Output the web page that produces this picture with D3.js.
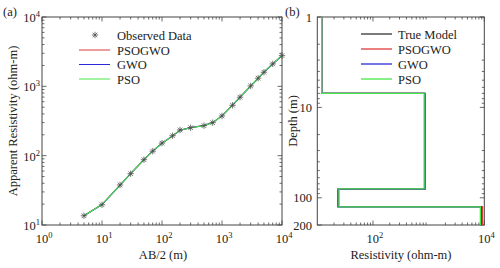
<!DOCTYPE html>
<html>
<head>
<meta charset="utf-8">
<script src="https://cdn.jsdelivr.net/npm/d3@7"></script>
<style>
body { margin: 0; background: #fff; }
svg { display: block; }
</style>
</head>
<body>
<svg id="chart" width="500" height="268" font-family="'Liberation Serif', 'DejaVu Serif', serif"></svg>
<script>
// panel (a): sounding curve
var abHalf = [5, 10, 20, 30, 50, 70, 100, 150, 200, 300, 500, 700, 1000, 1500, 2000, 3000, 4000, 5000, 7000, 10000];
var observed = [13.6, 19.6, 37.8, 55, 87.5, 116, 152, 194, 235, 253, 271, 299, 374, 533, 697, 1014, 1310, 1597, 2104, 2775];
var psogwoRhoA = [13.6, 19.7, 37.6, 55.2, 87.8, 116, 151, 193, 233, 254, 272, 300, 375, 535, 700, 1010, 1305, 1600, 2100, 2780];
var gwoRhoA = [13.6, 19.7, 37.6, 55.2, 87.7, 116, 151, 193, 233, 254, 272, 300, 375, 534, 699, 1010, 1305, 1598, 2100, 2778];
var psoRhoA = [13.6, 19.7, 37.7, 55.1, 87.6, 116, 151, 193, 233, 253, 271, 299, 374, 534, 698, 1012, 1308, 1598, 2102, 2776];
var aXTicks = [1, 10, 100, 1000, 10000];
var aYTicks = [10, 100, 1000, 10000];

// panel (b): layered models (resistivity per layer, depth of interfaces)
var trueRho = [12, 850, 24, 8700];
var trueDepth = [7, 80, 125];
var psogwoRho = [12, 860, 24, 9300];
var psogwoDepth = [7, 80.5, 125];
var gwoRho = [12, 850, 23.5, 8800];
var gwoDepth = [7, 80, 126];
var psoRho = [12, 830, 24.5, 8500];
var psoDepth = [7, 79.5, 126];
var bXTicks = [100, 10000];
var bYTicks = [1, 10, 100, 200];
var bYLabels = ["1", "10", "100", "200"];

var RED = "#e03a3a", BLUE = "#2a2ad8", GREEN = "#44e844", BLACK = "#333";
var AXIS = "#444";
var FONT = "'Liberation Serif', 'Times New Roman', 'DejaVu Serif', serif";

var svg = d3.select("#chart");

var ax = d3.scaleLog().domain([1, 1e4]).range([42, 282]);
var ay = d3.scaleLog().domain([10, 1e4]).range([225, 17]);
var bx = d3.scaleLog().domain([10, 1e4]).range([317.3, 484.3]);
var by = d3.scaleLog().domain([1, 200]).range([17, 225]);

function label(x, y, str, anchor) {
	return svg.append("text").attr("x", x).attr("y", y)
		.attr("text-anchor", anchor || "start")
		.attr("font-family", FONT).attr("font-size", 12.5).attr("fill", "#222")
		.text(str);
}

function minors(domain) {
	var out = [];
	var lo = Math.floor(Math.log10(domain[0])), hi = Math.ceil(Math.log10(domain[1]));
	for (var k = lo; k < hi; k++) {
		for (var m = 2; m <= 9; m++) {
			var v = m * Math.pow(10, k);
			if (v > domain[0] && v < domain[1]) out.push(v);
		}
	}
	return out;
}

function drawFrame(xs, ys, xMajor, yMajor) {
	var g = svg.append("g");
	var x0 = xs.range()[0], x1 = xs.range()[1];
	var y0 = ys.range()[0], y1 = ys.range()[1];
	var ticks = g.append("g").attr("stroke", AXIS).attr("stroke-width", 0.8);
	var xmin = minors(xs.domain()), ymin = minors(ys.domain());
	function vt(vals, len) {
		vals.forEach(function(v) {
			var x = xs(v);
			ticks.append("line").attr("x1", x).attr("x2", x).attr("y1", Math.max(y0, y1)).attr("y2", Math.max(y0, y1) - len);
			ticks.append("line").attr("x1", x).attr("x2", x).attr("y1", Math.min(y0, y1)).attr("y2", Math.min(y0, y1) + len);
		});
	}
	function ht(vals, len) {
		vals.forEach(function(v) {
			var y = ys(v);
			ticks.append("line").attr("y1", y).attr("y2", y).attr("x1", x0).attr("x2", x0 + len);
			ticks.append("line").attr("y1", y).attr("y2", y).attr("x1", x1).attr("x2", x1 - len);
		});
	}
	vt(xmin, 2.5); vt(xMajor, 4.5);
	ht(ymin, 2.5); ht(yMajor, 4.5);
	g.append("rect")
		.attr("x", x0).attr("y", Math.min(y0, y1))
		.attr("width", x1 - x0).attr("height", Math.abs(y0 - y1))
		.attr("fill", "none").attr("stroke", AXIS).attr("stroke-width", 1);
}

function powLabel(x, y, anchor, v) {
	var t = label(x, y, null, anchor);
	t.append("tspan").text("10");
	t.append("tspan").attr("dy", -5).attr("font-size", 8.5).text(Math.round(Math.log10(v)));
}

// ---------- panel (a)
drawFrame(ax, ay, aXTicks, aYTicks);
aXTicks.forEach(function(v) { powLabel(ax(v) + 2, 243, "middle", v); });
aYTicks.forEach(function(v) { powLabel(40, ay(v) + 5, "end", v); });

var aLine = d3.line().x(function(d) { return ax(d[0]); }).y(function(d) { return ay(d[1]); });
[[psogwoRhoA, RED], [gwoRhoA, BLUE], [psoRhoA, GREEN]].forEach(function(s) {
	svg.append("path").datum(d3.zip(abHalf, s[0]))
		.attr("d", aLine).attr("fill", "none").attr("stroke", s[1]).attr("stroke-width", 1.1);
});

function star(g, x, y, r) {
	var d = r * 0.72;
	var p = "M" + (x - r) + "," + y + "H" + (x + r) + "M" + x + "," + (y - r) + "V" + (y + r) +
		"M" + (x - d) + "," + (y - d) + "L" + (x + d) + "," + (y + d) +
		"M" + (x - d) + "," + (y + d) + "L" + (x + d) + "," + (y - d);
	g.append("path").attr("d", p).attr("stroke", "#4a4a4a").attr("stroke-width", 0.75).attr("fill", "none");
}
var marks = svg.append("g");
abHalf.forEach(function(v, i) { star(marks, ax(v), ay(observed[i]), 3.2); });

// legend (a)
var aLeg = svg.append("g");
star(aLeg, 95, 35, 3.2);
label(117, 39.5, "Observed Data");
[["PSOGWO", RED], ["GWO", BLUE], ["PSO", GREEN]].forEach(function(s, i) {
	var y = 50 + i * 14.5;
	aLeg.append("line").attr("x1", 79).attr("x2", 110).attr("y1", y).attr("y2", y).attr("stroke", s[1]).attr("stroke-width", 1);
	label(117, y + 4.5, s[0]);
});

label(163, 259, "AB/2 (m)", "middle");
label(0, 0, "Apparent Resistivity (ohm-m)", "middle").attr("transform", "translate(16.5,121) rotate(-90)");
label(3, 16, "(a)");

// ---------- panel (b)
drawFrame(bx, by, bXTicks, bYTicks);
bXTicks.forEach(function(v) { powLabel(bx(v) + 2, 243, "middle", v); });
bYTicks.forEach(function(v, i) { label(312, by(v) + 4.5, bYLabels[i], "end"); });

function steps(rho, depth) {
	var top = by.domain()[0], bottom = by.domain()[1];
	var pts = [];
	rho.forEach(function(r, i) {
		var d0 = i === 0 ? top : depth[i - 1];
		var d1 = i === rho.length - 1 ? bottom : depth[i];
		pts.push([r, d0], [r, d1]);
	});
	return pts;
}
var bLine = d3.line().x(function(d) { return bx(d[0]); }).y(function(d) { return by(d[1]); });
[[trueRho, trueDepth, BLACK], [psogwoRho, psogwoDepth, RED], [gwoRho, gwoDepth, BLUE], [psoRho, psoDepth, GREEN]].forEach(function(s) {
	svg.append("path").datum(steps(s[0], s[1]))
		.attr("d", bLine).attr("fill", "none").attr("stroke", s[2]).attr("stroke-width", 1.3);
});

var bLeg = svg.append("g");
[["True Model", BLACK], ["PSOGWO", RED], ["GWO", BLUE], ["PSO", GREEN]].forEach(function(s, i) {
	var y = 34 + i * 15;
	bLeg.append("line").attr("x1", 361).attr("x2", 392).attr("y1", y).attr("y2", y).attr("stroke", s[1]).attr("stroke-width", 1.3);
	label(398, y + 4.5, s[0]);
});

label(401, 259, "Resistivity (ohm-m)", "middle");
label(0, 0, "Depth (m)", "middle").attr("transform", "translate(297,121) rotate(-90)");
label(285, 16, "(b)");
</script>
</body>
</html>
